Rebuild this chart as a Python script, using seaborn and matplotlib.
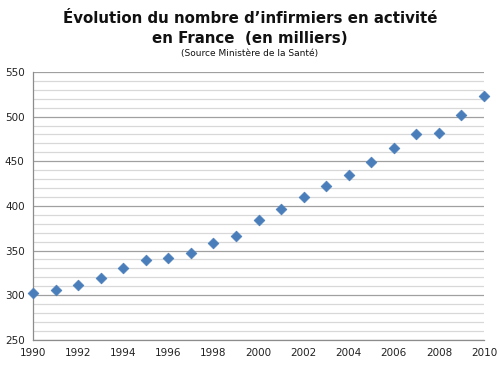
import matplotlib
matplotlib.use("Agg")
import matplotlib.pyplot as plt
from matplotlib.ticker import MultipleLocator
import seaborn as sns
import pandas as pd

years = list(range(1990, 2011))
infirmiers = [303, 306, 311, 319, 330, 339, 342, 347, 359, 366,
              384, 397, 410, 422, 435, 449, 465, 481, 482, 502, 523]

df = pd.DataFrame({"annee": years, "milliers": infirmiers})

sns.set_style("white")
plt.rcParams["font.family"] = ["DejaVu Sans"]

fig = plt.figure(figsize=(5.0, 3.69), dpi=100)
ax = fig.add_axes([0.066, 0.079, 0.902, 0.726])

sns.scatterplot(data=df, x="annee", y="milliers", ax=ax, marker="D",
                s=30, color="#4a7ebb", edgecolor="#4a7ebb", linewidth=0.5,
                zorder=3, clip_on=False)

ax.set_xlim(1990, 2010)
ax.set_ylim(250, 550)
ax.xaxis.set_major_locator(MultipleLocator(2))
ax.yaxis.set_major_locator(MultipleLocator(50))
ax.yaxis.set_minor_locator(MultipleLocator(10))
ax.grid(which="major", axis="y", color="#a0a0a0", linewidth=0.9)
ax.grid(which="minor", axis="y", color="#d8d8d8", linewidth=0.9)
ax.set_axisbelow(True)

for s in ["top", "right"]:
    ax.spines[s].set_visible(False)
for s in ["left", "bottom"]:
    ax.spines[s].set_color("#8c8c8c")
    ax.spines[s].set_linewidth(0.9)

ax.tick_params(axis="both", which="major", direction="out", length=4,
               color="#8c8c8c", labelsize=7.5, labelcolor="#222222", pad=2)
ax.tick_params(axis="y", which="minor", length=0)
ax.set_xlabel("")
ax.set_ylabel("")

fig.text(0.5, 0.951, "Évolution du nombre d’infirmiers en activité",
         ha="center", va="center", fontsize=10.8, fontweight="bold",
         color="#111111")
fig.text(0.5, 0.897, "en France  (en milliers)",
         ha="center", va="center", fontsize=10.8, fontweight="bold",
         color="#111111")
fig.text(0.5, 0.856, "(Source Ministère de la Santé)",
         ha="center", va="center", fontsize=6.5, color="#111111")

fig.savefig("out.png", dpi=100)
